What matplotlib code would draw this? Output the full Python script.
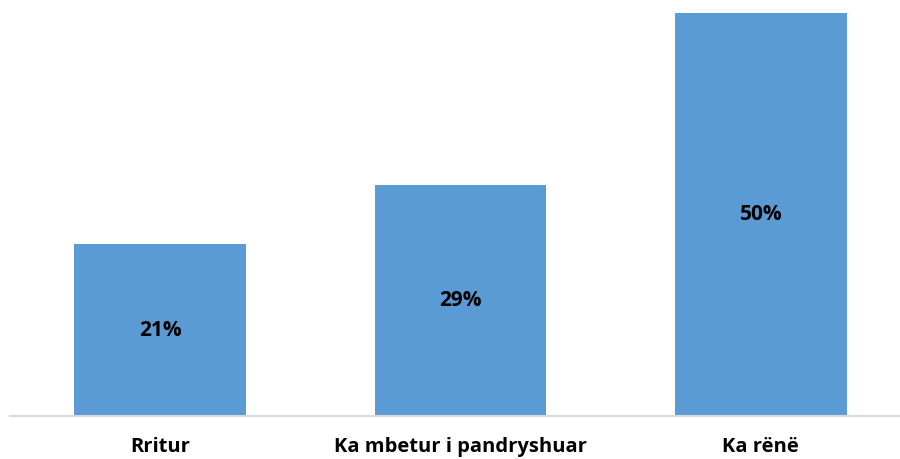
import numpy as np
import matplotlib.pyplot as plt

categories = ["Rritur", "Ka mbetur i pandryshuar", "Ka rënë"]
# bar heights; labels show them rounded
values = [21.3, 28.7, 50.0]

plt.rcParams['font.family'] = ['Open Sans', 'DejaVu Sans']

fig = plt.figure(figsize=(9, 4.59), dpi=100)
ax = fig.add_axes([10 / 900, 43 / 459, 901 / 900, 403 / 459])

x = np.arange(len(categories))
bars = ax.bar(x, values, width=0.572, color="#5B9BD5")

for xi, v in zip(x, values):
    ax.text(xi, v / 2, f"{v:.0f}%", ha="center", va="center",
            fontsize=15, fontweight="bold", color="black")

ax.set_xlim(-0.5, len(categories) - 0.5)
ax.set_ylim(0, 50)
ax.set_xticks(x)
ax.set_xticklabels(categories, fontsize=14.5, fontweight="bold")
ax.tick_params(axis="x", length=0, pad=15)
ax.set_yticks([])

for s in ["top", "right", "left"]:
    ax.spines[s].set_visible(False)
ax.spines["bottom"].set_color("#D9D9D9")
ax.spines["bottom"].set_linewidth(1.5)

fig.savefig("out.png", dpi=100)
